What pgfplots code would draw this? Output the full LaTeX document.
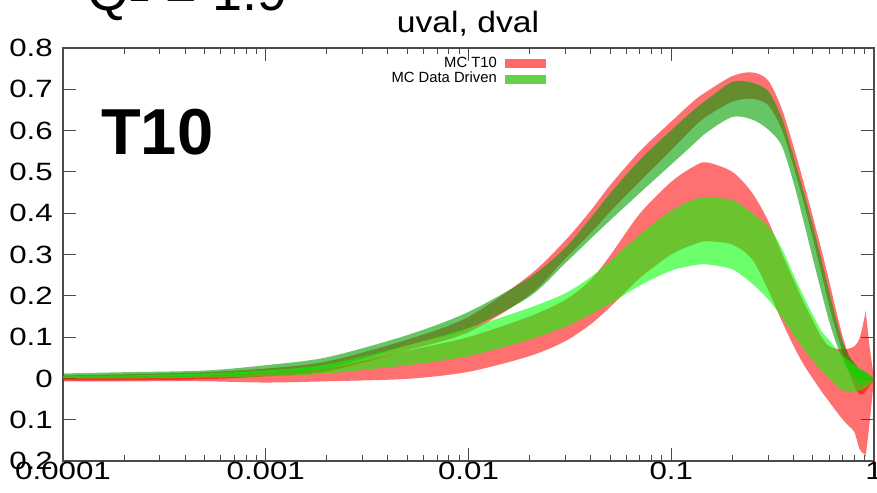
\documentclass[border=0pt]{standalone}
\usepackage{fontspec}
\setmainfont{Liberation Sans}
\usepackage{pgfplots}
\pgfplotsset{compat=1.18}
\usepackage{pgfplotstable}
\usepgfplotslibrary{fillbetween}

\definecolor{bandred}{RGB}{255,0,0}
\definecolor{ugreen}{RGB}{0,160,0}
\definecolor{dgreen}{RGB}{0,255,0}
\definecolor{axisgray}{RGB}{75,75,75}

% x*u_v band limits: T10 (r) and data driven (g)
\pgfplotstableread{
x       rlo      rhi     glo     ghi
1e-4   -0.005   0.007   0.002   0.012
2e-4   -0.005   0.010   0.002   0.015
5e-4   -0.002   0.015   0.005   0.019
1e-3    0.005   0.024   0.012   0.032
2e-3    0.017   0.041   0.024   0.051
5e-3    0.068   0.094   0.080   0.105
0.01    0.112   0.149   0.121   0.161
0.02    0.202   0.250   0.198   0.244
0.03    0.290   0.334   0.279   0.316
0.04    0.352   0.406   0.338   0.388
0.05    0.404   0.468   0.383   0.448
0.07    0.477   0.550   0.449   0.529
0.1     0.553   0.622   0.518   0.601
0.13    0.610   0.673   0.569   0.651
0.15    0.635   0.695   0.596   0.675
0.2     0.670   0.732   0.633   0.718
0.25    0.677   0.741   0.627   0.716
0.3     0.662   0.722   0.603   0.696
0.35    0.604   0.654   0.564   0.632
0.4     0.515   0.563   0.476   0.539
0.45    0.425   0.474   0.379   0.451
0.5     0.338   0.390   0.289   0.369
0.55    0.255   0.312   0.209   0.288
0.6     0.177   0.237   0.139   0.213
0.65    0.115   0.164   0.086   0.144
0.7     0.063   0.102   0.046   0.090
0.75    0.019   0.056   0.016   0.056
0.8    -0.019   0.032  -0.002   0.038
0.85   -0.039   0.022  -0.012   0.022
0.9    -0.034   0.017  -0.010   0.015
0.95   -0.019   0.007  -0.005   0.008
1       0.000   0.000   0.000   0.000
}\uval

% x*d_v band limits
\pgfplotstableread{
x       rlo      rhi     glo     ghi
1e-4   -0.007   0.002   0.000   0.005
2e-4   -0.007   0.005   0.000   0.007
5e-4   -0.007   0.007   0.002   0.012
1e-3   -0.010   0.015   0.005   0.019
2e-3   -0.007   0.024   0.012   0.034
5e-3   -0.001   0.067   0.032   0.080
0.01    0.016   0.100   0.054   0.122
0.02    0.054   0.150   0.094   0.171
0.03    0.090   0.190   0.125   0.206
0.04    0.131   0.238   0.155   0.245
0.05    0.173   0.298   0.181   0.284
0.07    0.243   0.399   0.225   0.348
0.1     0.300   0.476   0.261   0.406
0.13    0.325   0.514   0.274   0.434
0.15    0.332   0.523   0.276   0.437
0.2     0.324   0.500   0.264   0.432
0.25    0.289   0.450   0.230   0.400
0.3     0.215   0.382   0.192   0.369
0.35    0.140   0.304   0.149   0.316
0.4     0.080   0.239   0.107   0.252
0.45    0.033   0.184   0.071   0.198
0.5    -0.001   0.139   0.043   0.153
0.55   -0.031   0.100   0.019   0.115
0.6    -0.056   0.078   0.000   0.093
0.65   -0.079   0.072  -0.017   0.072
0.7    -0.099   0.071  -0.028   0.055
0.75   -0.115   0.072  -0.032   0.044
0.8    -0.130   0.078  -0.033   0.032
0.85   -0.172   0.098  -0.029   0.024
0.9    -0.184   0.150  -0.024   0.016
0.91   -0.186   0.160  -0.023   0.015
0.95   -0.110   0.079  -0.015   0.008
1       0.000   0.000   0.000   0.000
}\dval

\newcommand\ticklabelfont{\fontsize{25}{25}\selectfont}

\begin{document}
\begin{tikzpicture}[x=1pt,y=1pt]
\begin{axis}[
  at={(63pt,31pt)}, anchor=south west,
  scale only axis, width=811pt, height=413pt,
  xmode=log, xmin=1e-4, xmax=1, ymin=-0.2, ymax=0.8,
  xtick={1e-4,1e-3,1e-2,1e-1,1},
  xticklabels={0.0001,0.001,0.01,0.1,1},
  minor xtick={2e-4,3e-4,4e-4,5e-4,6e-4,7e-4,8e-4,9e-4,
               2e-3,3e-3,4e-3,5e-3,6e-3,7e-3,8e-3,9e-3,
               2e-2,3e-2,4e-2,5e-2,6e-2,7e-2,8e-2,9e-2,
               0.2,0.3,0.4,0.5,0.6,0.7,0.8,0.9},
  ytick={-0.2,-0.1,0,0.1,0.2,0.3,0.4,0.5,0.6,0.7,0.8},
  yticklabels={0.2,0.1,0,0.1,0.2,0.3,0.4,0.5,0.6,0.7,0.8},
  axis line style={axisgray, line width=1.3pt},
  tick style={axisgray, line width=1pt},
  major tick length=13pt, minor tick length=6pt,
  xticklabel style={font=\ticklabelfont, inner sep=0pt, anchor=north, xscale=1.25},
  yticklabel style={font=\ticklabelfont, inner sep=0pt, anchor=east, xscale=1.25},
  xticklabel shift=1pt, yticklabel shift=10pt,
  band/.style={draw=none, smooth, tension=0.5},
]
  % red bands (T10)
  \addplot[band, name path=ruh] table[x=x, y=rhi]{\uval};
  \addplot[band, name path=rul] table[x=x, y=rlo]{\uval};
  \addplot[fill=bandred, fill opacity=0.56, draw=none] fill between[of=ruh and rul];
  \addplot[band, name path=rdh] table[x=x, y=rhi]{\dval};
  \addplot[band, name path=rdl] table[x=x, y=rlo]{\dval};
  \addplot[fill=bandred, fill opacity=0.56, draw=none] fill between[of=rdh and rdl];
  % green bands (data driven)
  \addplot[band, name path=guh] table[x=x, y=ghi]{\uval};
  \addplot[band, name path=gul] table[x=x, y=glo]{\uval};
  \addplot[fill=ugreen, fill opacity=0.6, draw=none] fill between[of=guh and gul];
  \addplot[band, name path=gdh] table[x=x, y=ghi]{\dval};
  \addplot[band, name path=gdl] table[x=x, y=glo]{\dval};
  \addplot[fill=dgreen, fill opacity=0.58, draw=none] fill between[of=gdh and gdl];
\end{axis}

% titles and labels
\node[anchor=base west, inner sep=0pt, font=\fontsize{54}{54}\selectfont] at (87,481) {Q\textsuperscript{2} = 1.9};
\node[anchor=base, inner sep=0pt, font=\fontsize{29.5}{30}\selectfont, xscale=1.14] at (468,459) {uval, dval};
\node[anchor=base west, inner sep=0pt, font=\fontsize{65}{65}\selectfont\bfseries] at (101,337) {T10};

% legend
\node[anchor=base east, inner sep=0pt, font=\fontsize{14.8}{15}\selectfont] at (497,424) {MC T10};
\node[anchor=base east, inner sep=0pt, font=\fontsize{14.8}{15}\selectfont] at (497,409) {MC Data Driven};
\fill[fill={rgb,255:red,255;green,105;blue,105}] (505,424) rectangle (546,432.5);
\fill[fill={rgb,255:red,100;green,210;blue,70}] (505,408) rectangle (546,416.5);

% page frame
\pgfresetboundingbox
\path[use as bounding box] (0,0) rectangle (877,492);
\end{tikzpicture}
\end{document}
